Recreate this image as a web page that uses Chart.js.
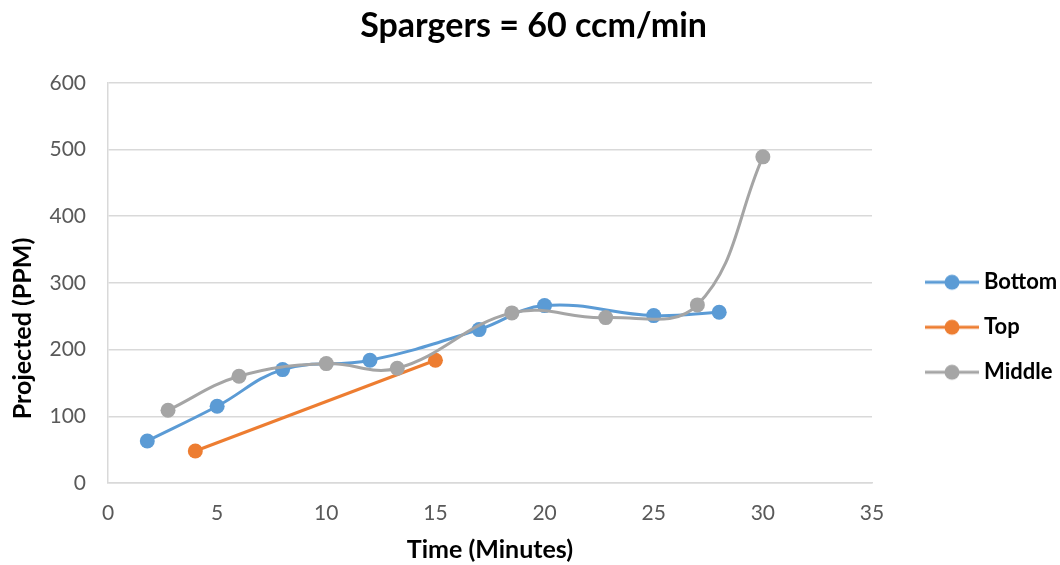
<!DOCTYPE html>
<html>
<head>
<meta charset="utf-8">
<script src="https://cdn.jsdelivr.net/npm/chart.js@4"></script>
<style>
  html, body { margin: 0; padding: 0; background: #fff; }
</style>
</head>
<body>
<canvas id="myChart" width="1060" height="565"></canvas>
<script>
// values
const bottomX = [1.8, 5, 8, 12, 17, 20, 25, 28];
const bottomY = [63, 115, 170, 184, 230, 266, 251, 256];
const topX = [4, 15];
const topY = [48, 184];
const middleX = [2.75, 6, 10, 13.25, 18.5, 22.8, 27, 30];
const middleY = [109, 160, 179, 172, 255, 248, 267, 489];
const xTicks = [0, 5, 10, 15, 20, 25, 30, 35];
const yTicks = [0, 100, 200, 300, 400, 500, 600];

const toPoints = (xs, ys) => xs.map((x, i) => ({x: x, y: ys[i]}));

const font = "Lato, 'Open Sans', sans-serif";
const legendFontSize = 22;
const legendBox = 78;

// legend icon: line with a dot, drawn in the right part of the box
function legendIcon(color) {
	const c = document.createElement("canvas");
	c.width = 90;
	c.height = 20;
	const g = c.getContext("2d");
	g.strokeStyle = color;
	g.lineWidth = 3;
	g.beginPath();
	g.moveTo(36, 10);
	g.lineTo(90, 10);
	g.stroke();
	g.fillStyle = color;
	g.beginPath();
	g.arc(63, 10, 7.5, 0, Math.PI * 2);
	g.fill();
	return c;
}

const series = [
	{label: "Bottom", xs: bottomX, ys: bottomY, color: "#5b9bd5", tension: 0.4, order: 2},
	{label: "Top", xs: topX, ys: topY, color: "#ed7d31", tension: 0, order: 1},
	{label: "Middle", xs: middleX, ys: middleY, color: "#a5a5a5", tension: 0.4, order: 0},
];

// work out how far the legend has to reach so the plot ends at x=872
const ctx = document.getElementById("myChart").getContext("2d");
ctx.font = "bold " + legendFontSize + "px " + font;
const textW = Math.max(...series.map(s => ctx.measureText(s.label).width));
const legendW = 23 + legendBox + legendFontSize / 2 + textW + 10;
const padRight = 1060 - 872 - legendW;

new Chart(ctx, {
	type: "scatter",
	data: {
		datasets: series.map(s => ({
			label: s.label,
			data: toPoints(s.xs, s.ys),
			showLine: true,
			borderColor: s.color,
			backgroundColor: s.color,
			borderWidth: 3,
			pointRadius: 7.5,
			pointHoverRadius: 7.5,
			pointBorderWidth: 0,
			tension: s.tension,
			order: s.order,
			icon: legendIcon(s.color),
		}))
	},
	options: {
		responsive: false,
		animation: false,
		layout: {padding: {left: 0, right: padRight, top: 0, bottom: 0}},
		plugins: {
			title: {
				display: true,
				text: "Spargers = 60 ccm/min",
				color: "#000",
				font: {family: font, size: 34, weight: "bold"},
				padding: {top: 6, bottom: 36},
			},
			tooltip: {enabled: false},
			legend: {
				position: "right",
				align: "center",
				title: {display: true, text: " ", padding: {top: 0, bottom: 75}},
				labels: {
					usePointStyle: true,
					pointStyleWidth: legendBox,
					padding: 23,
					color: "#000",
					font: {family: font, size: legendFontSize, weight: "bold"},
					generateLabels(chart) {
						return chart.data.datasets.map((d, i) => ({
							text: d.label,
							pointStyle: d.icon,
							fillStyle: d.borderColor,
							strokeStyle: d.borderColor,
							lineWidth: 0,
							hidden: false,
							datasetIndex: i,
							fontColor: "#000",
						}));
					},
				},
			},
		},
		scales: {
			x: {
				type: "linear",
				min: 0,
				max: 35,
				afterBuildTicks(axis) { axis.ticks = xTicks.map(v => ({value: v})); },
				afterFit(axis) { axis.height = 82; },
				grid: {display: false, drawTicks: false},
				border: {color: "#d9d9d9", width: 1.5},
				ticks: {color: "#595959", font: {family: font, size: 21}, padding: 18, maxRotation: 0},
				title: {
					display: true,
					text: "Time (Minutes)",
					color: "#000",
					font: {family: font, size: 25, weight: "bold"},
					padding: {top: 12, bottom: 0},
				},
			},
			y: {
				type: "linear",
				min: 0,
				max: 600,
				afterBuildTicks(axis) { axis.ticks = yTicks.map(v => ({value: v})); },
				afterFit(axis) { axis.width = 108; },
				grid: {color: "#d9d9d9", lineWidth: 1.5, drawTicks: false},
				border: {color: "#d9d9d9", width: 1.5},
				ticks: {color: "#595959", font: {family: font, size: 21}, padding: 22},
				title: {
					display: true,
					// trailing spaces push the visible words down, as in the original
					text: "Projected (PPM)               ",
					color: "#000",
					font: {family: font, size: 25, weight: "bold"},
					padding: {top: 8, bottom: 0},
				},
			},
		},
	},
});
</script>
</body>
</html>
